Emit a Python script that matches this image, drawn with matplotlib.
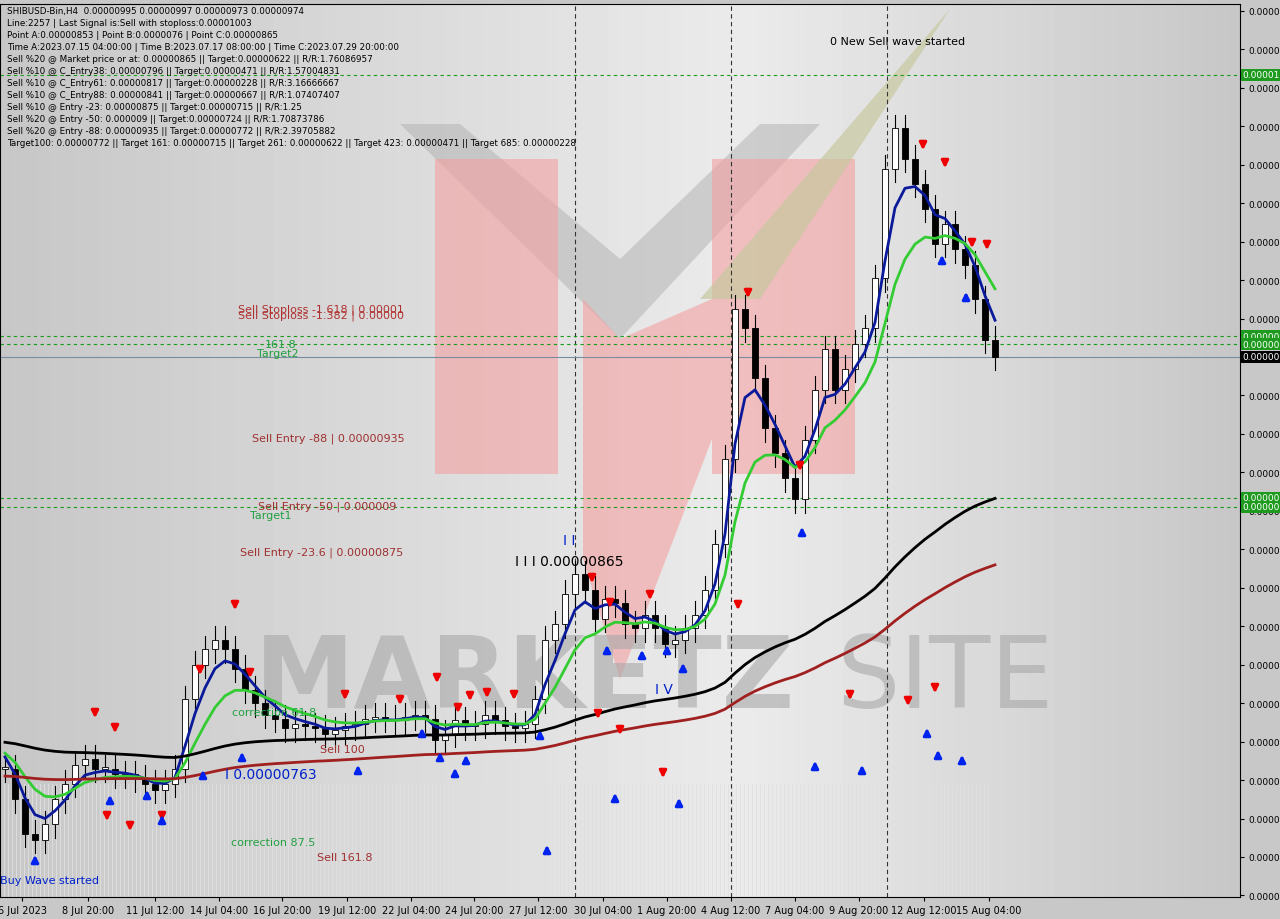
import matplotlib.pyplot as plt
import matplotlib.patches as mpatches
import numpy as np

# closes, in units of 1e-6 USD, one point per ~10h
closes = [7.60,7.44,7.26,7.23,7.31,7.44,7.52,7.62,7.65,7.60,7.60,7.57,7.57,7.55,7.52,7.49,7.52,7.60,
          7.96,8.14,8.22,8.27,8.22,8.12,8.01,7.94,7.88,7.86,7.81,7.83,7.82,7.81,7.78,7.80,7.82,7.83,
          7.86,7.87,7.86,7.85,7.87,7.88,7.86,7.75,7.78,7.85,7.82,7.83,7.88,7.85,7.82,7.81,7.83,7.96,
          8.27,8.35,8.51,8.61,8.53,8.38,8.48,8.46,8.35,8.33,8.40,8.33,8.25,8.27,8.33,8.40,8.53,8.77,
          9.21,9.99,9.89,9.63,9.37,9.24,9.11,9.00,9.31,9.57,9.78,9.57,9.68,9.81,9.89,10.15,10.72,10.93,
          10.77,10.64,10.51,10.33,10.43,10.30,10.22,10.04,9.83,9.74]
date_labels = ["6 Jul 2023","8 Jul 20:00","11 Jul 12:00","14 Jul 04:00","16 Jul 20:00","19 Jul 12:00",
               "22 Jul 04:00","24 Jul 20:00","27 Jul 12:00","30 Jul 04:00","1 Aug 20:00","4 Aug 12:00",
               "7 Aug 04:00","9 Aug 20:00","12 Aug 12:00","15 Aug 04:00"]
date_px = [22,88,155,219,282,347,411,474,538,603,667,731,795,859,924,989]
info = ["SHIBUSD-Bin,H4  0.00000995 0.00000997 0.00000973 0.00000974",
        "Line:2257 | Last Signal is:Sell with stoploss:0.00001003",
        "Point A:0.00000853 | Point B:0.0000076 | Point C:0.00000865",
        "Time A:2023.07.15 04:00:00 | Time B:2023.07.17 08:00:00 | Time C:2023.07.29 20:00:00",
        "Sell %20 @ Market price or at: 0.00000865 || Target:0.00000622 || R/R:1.76086957",
        "Sell %10 @ C_Entry38: 0.00000796 || Target:0.00000471 || R/R:1.57004831",
        "Sell %10 @ C_Entry61: 0.00000817 || Target:0.00000228 || R/R:3.16666667",
        "Sell %10 @ C_Entry88: 0.00000841 || Target:0.00000667 || R/R:1.07407407",
        "Sell %10 @ Entry -23: 0.00000875 || Target:0.00000715 || R/R:1.25",
        "Sell %20 @ Entry -50: 0.000009 || Target:0.00000724 || R/R:1.70873786",
        "Sell %20 @ Entry -88: 0.00000935 || Target:0.00000772 || R/R:2.39705882",
        "Target100: 0.00000772 || Target 161: 0.00000715 || Target 261: 0.00000622 || Target 423: 0.00000471 || Target 685: 0.00000228"]
red_arrows = [(95,715),(115,730),(107,818),(130,828),(162,818),(200,672),(235,607),(250,675),(345,697),
              (400,702),(437,680),(458,710),(470,698),(487,695),(514,697),(598,716),(620,732),(592,580),
              (610,605),(650,597),(663,775),(738,607),(748,295),(800,468),(850,697),(908,703),(935,690),
              (923,147),(945,165),(972,245),(987,247)]
blue_arrows = [(35,860),(110,800),(147,795),(162,820),(203,775),(242,757),(358,770),(422,733),(440,757),
               (455,773),(466,760),(540,735),(547,850),(607,650),(615,798),(642,655),(667,650),(679,803),
               (683,668),(802,532),(815,766),(862,770),(927,733),(938,755),(962,760),(942,260),(966,297)]

W, H = 1280, 920
L, R, T, B = 0, 1240, 5, 898

def px2d(x, y):
    return (x - 5) / 10.0, 9.74 + (358 - y) * 0.0052

fig = plt.figure(figsize=(12.8, 9.2), dpi=100)
fig.patch.set_facecolor('#c8c8c8')
ax = fig.add_axes([L / W, 1 - B / H, (R - L) / W, (B - T) / H])
x0, _ = px2d(L, 0); x1, _ = px2d(R, 0)
_, ytop = px2d(0, T); _, ybot = px2d(0, B)
ax.set_xlim(x0, x1); ax.set_ylim(ybot, ytop)

# background gradient
grad = np.outer(np.ones(50), np.concatenate([np.linspace(0.78, 0.92, 60), np.linspace(0.92, 0.78, 40)]))
ax.imshow(grad, cmap='gray', vmin=0, vmax=1, extent=[x0, x1, ybot, ytop], aspect='auto', zorder=0)

def poly(pts, **kw):
    ax.add_patch(mpatches.Polygon([px2d(*p) for p in pts], closed=True, **kw))

# watermark
poly([(460,125),(620,260),(760,125),(820,125),(620,340),(400,125)], fc='#b0b0b0', alpha=0.5, zorder=1, lw=0)
poly([(435,160),(558,160),(558,475),(435,475)], fc='#f4a0a0', alpha=0.6, zorder=1, lw=0)
poly([(583,300),(620,340),(712,300),(712,160),(855,160),(855,475),(712,475),(712,440),(620,680),(583,560)],
     fc='#f4a0a0', alpha=0.6, zorder=1, lw=0)
poly([(700,300),(950,10),(760,300)], fc='#c8c8a0', alpha=0.7, zorder=1, lw=0)
ax.text(*px2d(525, 680), "MARKETZ", fontsize=72, color='#a8a8a8', ha='center', va='center', zorder=1,
        fontweight='bold', alpha=0.6, family='Liberation Sans Narrow')
ax.text(*px2d(945, 680), "SITE", fontsize=72, color='#a8a8a8', ha='center', va='center', zorder=1,
        alpha=0.6, family='Liberation Sans Narrow')

# bottom hatch
for xp in range(0, 992, 4):
    ax.plot(*zip(px2d(xp, 785), px2d(xp, 898)), color='#e0e0e0', lw=0.6, zorder=1)

# vertical dashed separators
for xp in [575, 731, 887]:
    ax.axvline(px2d(xp, 0)[0], color='#333333', ls=(0, (4, 3)), lw=0.8, zorder=2)

# horizontal levels
for yp in [76, 337, 345, 499, 508]:
    ax.axhline(px2d(0, yp)[1], color='#1a9a1a', ls=(0, (3, 3)), lw=0.8, zorder=2)
    fig.text(1242 / W, 1 - yp / H, "0.0000" + ("1" if yp < 100 else "09"), fontsize=6.5, color='white',
             va='center', ha='left', bbox=dict(fc='#1e9a1e', ec='none', pad=1.0))
ax.axhline(closes[-1], color='#7a8ca0', lw=0.8, zorder=2)
fig.text(1242 / W, 1 - 358 / H, "0.00000974", fontsize=6.5, color='white', va='center', ha='left',
         bbox=dict(fc='black', ec='none', pad=1.0))

# candles
xs = np.arange(len(closes))
opens = [closes[0]] + closes[:-1]
for i, (o, c) in enumerate(zip(opens, closes)):
    hi = max(o, c) + 0.07; lo = min(o, c) - 0.07
    ax.plot([i, i], [lo, hi], color='black', lw=0.8, zorder=3)
    fc = 'white' if c >= o else 'black'
    ax.add_patch(mpatches.Rectangle((i - 0.3, min(o, c)), 0.6, max(abs(c - o), 0.008),
                                    fc=fc, ec='black', lw=0.6, zorder=3))

# moving averages
def ema(vals, span, seed):
    a = 2.0 / (span + 1); out = []; v = seed
    for c in vals:
        v = v + a * (c - v); out.append(v)
    return out

ax.plot(xs, ema(closes, 4, 7.70), color='#0a1a9a', lw=2, zorder=4)
ax.plot(xs, ema(closes, 9, 7.70), color='#33cc33', lw=2, zorder=4)
ax.plot(xs, ema(closes, 80, 7.74), color='black', lw=2, zorder=4)
ax.plot(xs, ema(closes, 120, 7.56), color='#a02020', lw=2, zorder=4)

for (xp, yp) in red_arrows:
    ax.annotate("", xy=px2d(xp, yp + 7), xytext=px2d(xp, yp - 7),
                arrowprops=dict(arrowstyle='-|>', color='#ee0000', lw=2.2, mutation_scale=10), zorder=5)
for (xp, yp) in blue_arrows:
    ax.annotate("", xy=px2d(xp, yp - 7), xytext=px2d(xp, yp + 7),
                arrowprops=dict(arrowstyle='-|>', color='#0022ee', lw=2.2, mutation_scale=10), zorder=5)

# chart labels
labels = [(238, 310, "Sell Stoploss -1.618 | 0.00001", '#b03030'),
          (238, 316, "Sell Stoploss -1.382 | 0.00000", '#b03030'),
          (265, 345, "161.8", '#20a040'), (257, 354, "Target2", '#20a040'),
          (252, 439, "Sell Entry -88 | 0.00000935", '#a03030'),
          (258, 507, "Sell Entry -50 | 0.000009", '#a03030'), (250, 516, "Target1", '#20a040'),
          (240, 553, "Sell Entry -23.6 | 0.00000875", '#a03030'),
          (320, 750, "Sell 100", '#a03030'), (317, 858, "Sell 161.8", '#a03030'),
          (231, 843, "correction 87.5", '#20a040'), (232, 713, "correction 61.8", '#20a040'),
          (830, 42, "0 New Sell wave started", 'black'), (0, 881, "Buy Wave started", '#0022cc')]
for xp, yp, s, col in labels:
    ax.text(*px2d(xp, yp), s, fontsize=8, color=col, va='center', ha='left', zorder=6)
ax.text(*px2d(515, 562), "I I I 0.00000865", fontsize=10, color='black', va='center', zorder=6)
ax.text(*px2d(225, 775), "I 0.00000763", fontsize=10, color='#0022cc', va='center', zorder=6)
ax.text(*px2d(563, 541), "I I", fontsize=10, color='#0022cc', va='center', zorder=6)
ax.text(*px2d(655, 690), "I V", fontsize=10, color='#0022cc', va='center', zorder=6)

for k, s in enumerate(info):
    ax.text(*px2d(7, 12 + k * 12), s, fontsize=6.3, color='black', va='center', ha='left', zorder=6)

# axes styling
ax.set_xticks([px2d(p, 0)[0] for p in date_px])
ax.set_xticklabels(date_labels, fontsize=7)
ticks = np.arange(11.54, 6.9, -0.2)
ax.yaxis.tick_right()
ax.set_yticks(ticks)
ax.set_yticklabels(["%.8f" % (t * 1e-6) for t in ticks], fontsize=6.5)
ax.tick_params(direction='out', length=3, pad=3)
for s in ax.spines.values():
    s.set_color('black')

fig.savefig("out.png", dpi=100)
